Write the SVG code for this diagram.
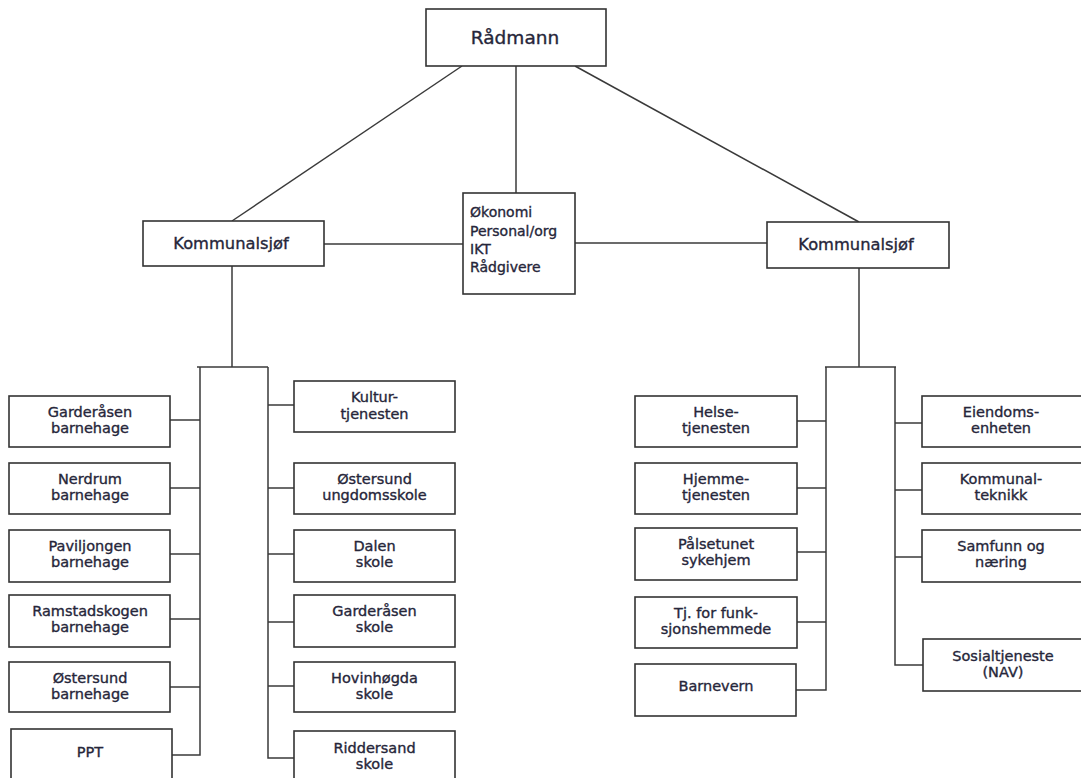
<svg xmlns="http://www.w3.org/2000/svg" width="1081" height="778" viewBox="0 0 1081 778">
<style>
.box{fill:#fff;stroke:#333;stroke-width:1.6}
.ln{fill:none;stroke:#3a3a3a;stroke-width:1.5}
text{font-family:"DejaVu Sans","Liberation Sans",sans-serif;fill:#26263a;stroke:#26263a;stroke-width:0.35;text-anchor:middle}
.t{font-size:14.5px}
.k{font-size:16.3px}
.r{font-size:18.5px}
.o{font-size:14px;text-anchor:start}
</style>
<rect width="1081" height="778" fill="#fff"/>
<g id="connectors" class="ln">
<line x1="462" y1="66" x2="232" y2="221"/>
<line x1="575" y1="66" x2="859" y2="222"/>
<line x1="516" y1="66" x2="516" y2="193"/>
<line x1="324" y1="244" x2="463" y2="244"/>
<line x1="575" y1="243" x2="767" y2="243"/>
<polyline points="232,266 232,367"/>
<polyline points="197,367 268,367"/>
<polyline points="200,367 200,755 172,755"/>
<polyline points="268,367 268,758 294,758"/>
<line x1="170" y1="420" x2="200" y2="420"/>
<line x1="170" y1="488" x2="200" y2="488"/>
<line x1="170" y1="554" x2="200" y2="554"/>
<line x1="170" y1="619" x2="200" y2="619"/>
<line x1="170" y1="687" x2="200" y2="687"/>
<line x1="268" y1="405" x2="294" y2="405"/>
<line x1="268" y1="488" x2="294" y2="488"/>
<line x1="268" y1="554" x2="294" y2="554"/>
<line x1="268" y1="622" x2="294" y2="622"/>
<line x1="268" y1="686" x2="294" y2="686"/>
<polyline points="859,268 859,367"/>
<polyline points="825,367 896,367"/>
<polyline points="826,367 826,690 796,690"/>
<polyline points="895,367 895,665 925,665"/>
<line x1="797" y1="421" x2="826" y2="421"/>
<line x1="797" y1="488" x2="826" y2="488"/>
<line x1="797" y1="552" x2="826" y2="552"/>
<line x1="797" y1="622" x2="826" y2="622"/>
<line x1="895" y1="423" x2="925" y2="423"/>
<line x1="895" y1="490" x2="925" y2="490"/>
<line x1="895" y1="557" x2="925" y2="557"/>
</g>
<g id="radmann"><rect class="box" x="426" y="9" width="180" height="57"/><text class="r" x="515" y="44">Rådmann</text></g>
<g id="kommunalsjef-left"><rect class="box" x="143" y="221" width="181" height="45"/><text class="k" x="231" y="249">Kommunalsjøf</text></g>
<g id="stab"><rect class="box" x="463" y="193" width="112" height="101"/>
<text class="o" x="470" y="217">Økonomi</text><text class="o" x="470" y="235.5">Personal/org</text><text class="o" x="470" y="254">IKT</text><text class="o" x="470" y="272">Rådgivere</text></g>
<g id="kommunalsjef-right"><rect class="box" x="767" y="222" width="182" height="46"/><text class="k" x="856" y="250">Kommunalsjøf</text></g>

<g id="garderasen-bh"><rect class="box" x="9" y="396" width="161" height="51"/><text class="t" x="90" y="417">Garderåsen</text><text class="t" x="90" y="433">barnehage</text></g>
<g id="nerdrum-bh"><rect class="box" x="9" y="463" width="161" height="51"/><text class="t" x="90" y="484">Nerdrum</text><text class="t" x="90" y="500">barnehage</text></g>
<g id="paviljongen-bh"><rect class="box" x="9" y="530" width="161" height="52"/><text class="t" x="90" y="551">Paviljongen</text><text class="t" x="90" y="567">barnehage</text></g>
<g id="ramstadskogen-bh"><rect class="box" x="9" y="595" width="161" height="52"/><text class="t" x="90" y="616">Ramstadskogen</text><text class="t" x="90" y="632">barnehage</text></g>
<g id="ostersund-bh"><rect class="box" x="9" y="662" width="161" height="50"/><text class="t" x="90" y="683">Østersund</text><text class="t" x="90" y="699">barnehage</text></g>
<g id="ppt"><rect class="box" x="11" y="729" width="161" height="60"/><text class="t" x="90" y="757">PPT</text></g>

<g id="kulturtjenesten"><rect class="box" x="294" y="381" width="161" height="51"/><text class="t" x="374.5" y="402">Kultur-</text><text class="t" x="374.5" y="419">tjenesten</text></g>
<g id="ostersund-us"><rect class="box" x="294" y="463" width="161" height="51"/><text class="t" x="374.5" y="484">Østersund</text><text class="t" x="374.5" y="500">ungdomsskole</text></g>
<g id="dalen"><rect class="box" x="294" y="530" width="161" height="52"/><text class="t" x="374.5" y="551">Dalen</text><text class="t" x="374.5" y="567">skole</text></g>
<g id="garderasen-sk"><rect class="box" x="294" y="595" width="161" height="52"/><text class="t" x="374.5" y="616">Garderåsen</text><text class="t" x="374.5" y="632">skole</text></g>
<g id="hovinhogda"><rect class="box" x="294" y="662" width="161" height="50"/><text class="t" x="374.5" y="683">Hovinhøgda</text><text class="t" x="374.5" y="699">skole</text></g>
<g id="riddersand"><rect class="box" x="294" y="731" width="161" height="58"/><text class="t" x="374.5" y="753">Riddersand</text><text class="t" x="374.5" y="769">skole</text></g>

<g id="helse"><rect class="box" x="635" y="396" width="162" height="51"/><text class="t" x="716" y="417">Helse-</text><text class="t" x="716" y="433">tjenesten</text></g>
<g id="hjemme"><rect class="box" x="635" y="463" width="162" height="51"/><text class="t" x="716" y="484">Hjemme-</text><text class="t" x="716" y="500">tjenesten</text></g>
<g id="palsetunet"><rect class="box" x="635" y="528" width="162" height="52"/><text class="t" x="716" y="549">Pålsetunet</text><text class="t" x="716" y="565">sykehjem</text></g>
<g id="funksjonshemmede"><rect class="box" x="635" y="597" width="162" height="51"/><text class="t" x="716" y="618">Tj. for funk-</text><text class="t" x="716" y="634">sjonshemmede</text></g>
<g id="barnevern"><rect class="box" x="635" y="664" width="161" height="52"/><text class="t" x="716" y="691">Barnevern</text></g>

<g id="eiendom"><rect class="box" x="922" y="396" width="170" height="51"/><text class="t" x="1001" y="417">Eiendoms-</text><text class="t" x="1001" y="433">enheten</text></g>
<g id="kommunalteknikk"><rect class="box" x="922" y="463" width="170" height="51"/><text class="t" x="1001" y="484">Kommunal-</text><text class="t" x="1001" y="500">teknikk</text></g>
<g id="samfunn"><rect class="box" x="922" y="530" width="170" height="52"/><text class="t" x="1001" y="551">Samfunn og</text><text class="t" x="1001" y="567">næring</text></g>
<g id="sosial"><rect class="box" x="923" y="639" width="170" height="52"/><text class="t" x="1003" y="661">Sosialtjeneste</text><text class="t" x="1003" y="677">(NAV)</text></g>
</svg>
